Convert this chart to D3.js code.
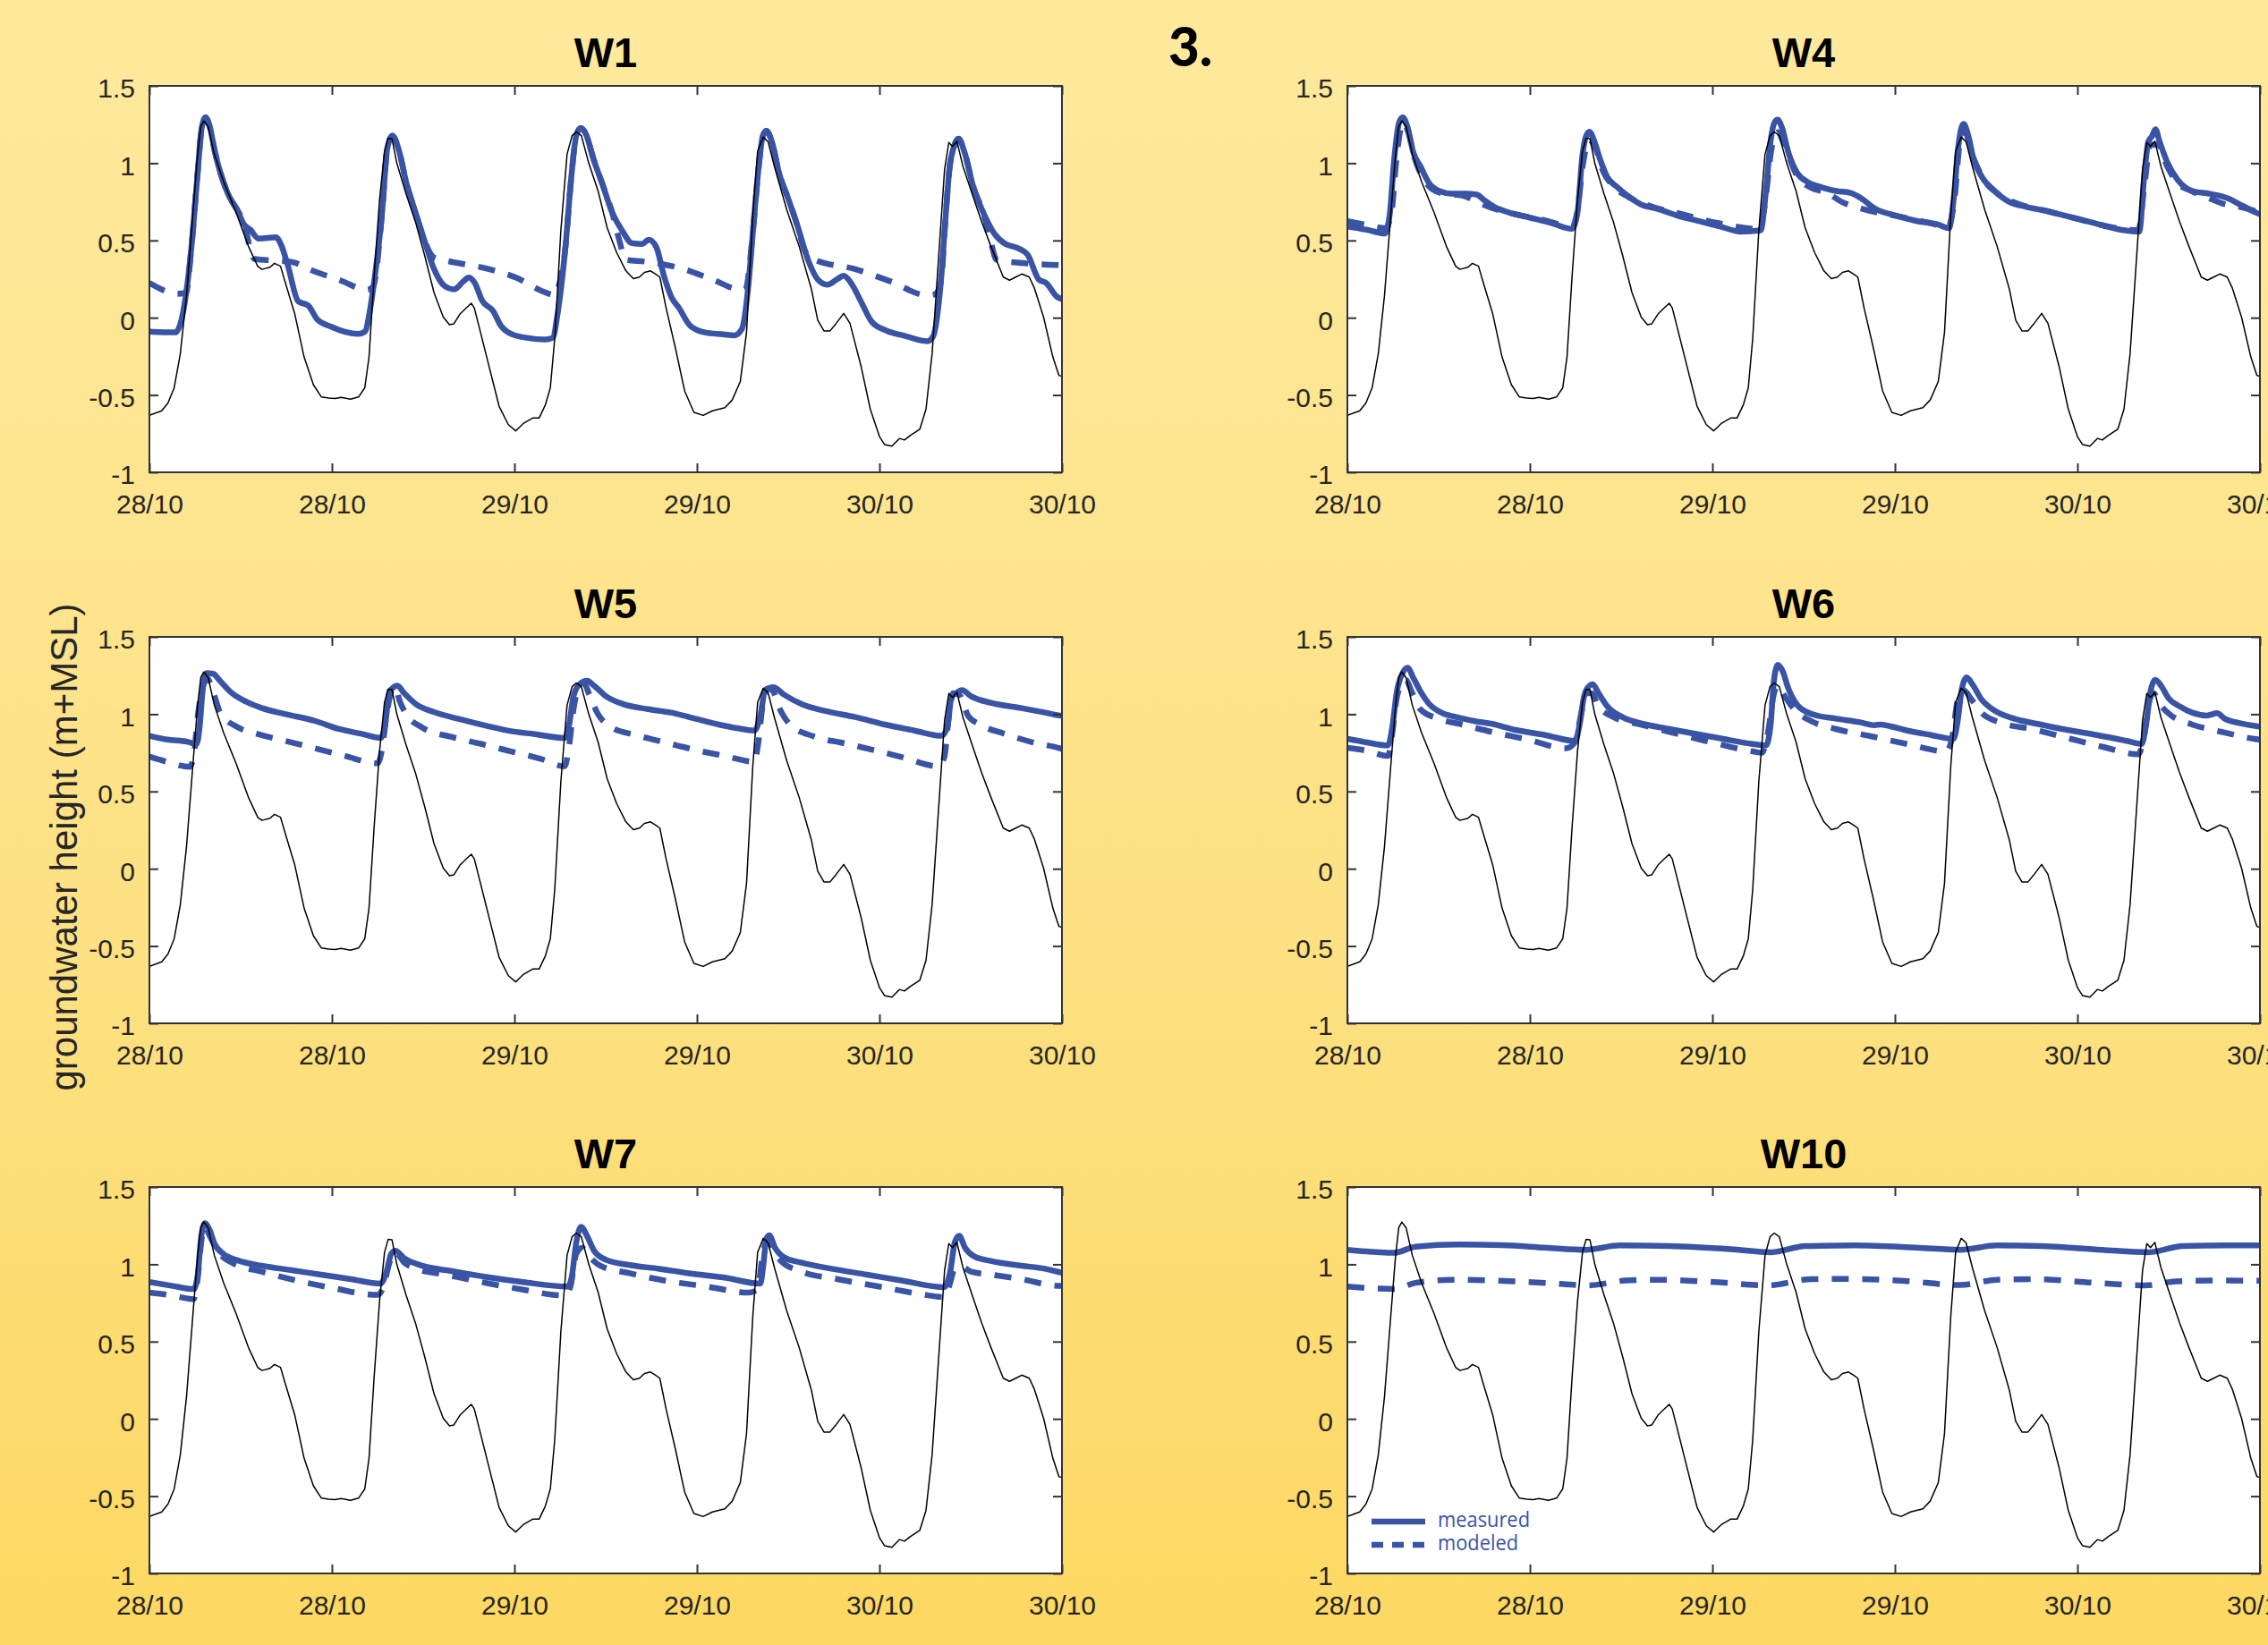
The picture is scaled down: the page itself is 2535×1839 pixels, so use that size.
<!DOCTYPE html>
<html>
<head>
<meta charset="utf-8">
<script src="https://cdn.jsdelivr.net/npm/d3@7"></script>
<style>
  html, body { margin: 0; padding: 0; overflow: hidden; background: #fde39a; }
  svg { display: block; }
</style>
</head>
<body>
<svg id="fig" width="2535" height="1839"></svg>
<script>
// ---- Data: hours after 28/10 00:00, value in m+MSL ----

// Sea level (thin black line), identical in every panel
const tide = [
  [0,-0.632],[0.81,-0.602],[1.22,-0.552],[1.63,-0.453],[2.03,-0.234],[2.44,0.144],[2.85,0.661],[3.17,1.058],
  [3.38,1.237],[3.58,1.273],[3.86,1.237],[4.27,1.058],[4.88,0.879],[5.7,0.681],[6.51,0.462],[7.12,0.333],
  [7.4,0.313],[7.93,0.327],[8.22,0.352],[8.62,0.333],[8.95,0.223],[9.56,0.024],[10.17,-0.254],[10.78,-0.433],
  [11.31,-0.513],[11.8,-0.52],[12.2,-0.523],[12.6,-0.515],[13.22,-0.527],[13.75,-0.513],[14.16,-0.453],
  [14.44,-0.254],[14.77,0.263],[15.13,0.76],[15.46,1.078],[15.7,1.162],[15.95,1.158],[16.27,0.999],[16.88,0.8],
  [17.49,0.621],[18.1,0.402],[18.71,0.163],[19.32,0.004],[19.73,-0.045],[20.02,-0.039],[20.42,0.024],
  [20.8,0.06],[21.16,0.094],[21.36,0.064],[21.77,-0.095],[22.38,-0.334],[22.99,-0.572],[23.6,-0.692],
  [24.08,-0.732],[24.61,-0.682],[25.22,-0.648],[25.63,-0.648],[26.04,-0.562],[26.36,-0.453],[26.65,-0.135],
  [27.05,0.561],[27.46,1.058],[27.79,1.178],[28.07,1.202],[28.4,1.178],[28.89,0.999],[29.5,0.82],[30.1,0.581],
  [30.72,0.422],[31.33,0.303],[31.82,0.253],[32.22,0.263],[32.55,0.293],[32.95,0.303],[33.28,0.283],
  [33.56,0.263],[33.97,0.064],[34.58,-0.194],[35.19,-0.473],[35.8,-0.612],[36.41,-0.632],[37.02,-0.602],
  [37.84,-0.582],[38.32,-0.532],[38.85,-0.413],[39.26,-0.095],[39.67,0.661],[39.99,1.078],[40.36,1.168],
  [40.68,1.138],[41.09,0.979],[41.9,0.7],[42.72,0.462],[43.53,0.183],[43.94,-0.016],[44.35,-0.085],
  [44.75,-0.085],[45.16,-0.036],[45.65,0.028],[46.06,-0.036],[46.79,-0.314],[47.4,-0.592],[48.01,-0.771],
  [48.34,-0.821],[48.82,-0.831],[49.31,-0.781],[49.64,-0.791],[50.04,-0.761],[50.65,-0.722],[51.06,-0.592],
  [51.46,-0.234],[51.87,0.362],[52.28,0.959],[52.56,1.134],[52.8,1.108],[53.09,1.142],[53.49,0.979],
  [54.1,0.8],[54.72,0.621],[55.33,0.462],[56.14,0.263],[56.55,0.243],[56.96,0.263],[57.36,0.283],
  [57.85,0.263],[58.18,0.193],[58.79,0.004],[59.4,-0.254],[59.8,-0.373],[60,-0.38]
];

const w1Measured = [
  [0,-0.09],[1.7,-0.095],[2.13,-0.004],[2.76,0.454],[3.15,0.911],[3.44,1.23],[3.69,1.296],[3.98,1.23],
  [4.31,1.072],[5.16,0.802],[5.84,0.686],[6.18,0.609],[6.63,0.57],[7.19,0.512],[8.32,0.52],[8.65,0.474],
  [9.1,0.339],[9.78,0.107],[10.45,0.078],[11.02,-0.009],[11.92,-0.057],[13.72,-0.105],[14.17,-0.09],
  [14.5,0.049],[14.8,0.25],[15.3,0.683],[15.64,1.095],[15.97,1.178],[16.37,1.095],[16.91,0.866],[17.49,0.683],
  [18.08,0.5],[18.71,0.316],[19.44,0.203],[20.03,0.184],[20.66,0.237],[21.0,0.26],[21.39,0.225],[21.88,0.11],
  [22.61,0.042],[23.1,-0.05],[23.83,-0.107],[24.81,-0.13],[26.03,-0.141],[26.51,-0.13],[26.86,0.042],
  [27.35,0.454],[27.74,0.911],[28.08,1.186],[28.37,1.227],[28.71,1.186],[29.2,1.026],[29.78,0.866],
  [30.42,0.683],[31.05,0.569],[31.73,0.482],[32.37,0.477],[32.85,0.505],[33.34,0.454],[33.83,0.271],
  [34.32,0.134],[34.81,0.065],[35.54,-0.05],[36.52,-0.095],[37.74,-0.107],[38.47,-0.114],[38.96,-0.072],
  [39.35,0.179],[39.69,0.569],[40.04,0.957],[40.33,1.174],[40.57,1.209],[40.92,1.141],[41.4,0.935],
  [41.99,0.774],[42.62,0.591],[43.35,0.362],[43.94,0.248],[44.57,0.214],[45.2,0.248],[45.64,0.271],
  [46.13,0.225],[46.76,0.11],[47.5,-0.027],[48.47,-0.084],[49.69,-0.118],[51.15,-0.152],[51.54,-0.118],
  [52.03,0.225],[52.37,0.683],[52.62,0.98],[52.86,1.095],[53.2,1.158],[53.59,1.071],[54.18,0.843],
  [54.81,0.683],[55.54,0.546],[56.28,0.477],[57.01,0.454],[57.74,0.408],[58.47,0.248],[58.95,0.225],
  [59.69,0.134],[60,0.12]
];
const w1Modeled = [
  [0,0.225],[1.0,0.175],[1.8,0.155],[2.4,0.16],[2.76,0.454],[3.15,0.911],[3.44,1.23],[3.69,1.296],
  [3.98,1.23],[4.31,1.072],[5.16,0.802],[5.84,0.686],[6.28,0.6],[6.6,0.454],[6.9,0.38],[8.2,0.37],
  [9.4,0.36],[10.6,0.31],[12.6,0.24],[14.3,0.18],[14.7,0.2],[15.3,0.683],[15.64,1.095],[15.97,1.178],
  [16.37,1.095],[16.91,0.866],[17.49,0.683],[18.08,0.5],[18.7,0.39],[19.35,0.373],[22.5,0.31],[24.1,0.26],
  [25.76,0.175],[26.66,0.146],[26.9,0.2],[27.35,0.454],[27.74,0.911],[28.08,1.186],[28.37,1.227],
  [28.71,1.186],[29.2,1.026],[29.78,0.866],[30.42,0.683],[30.9,0.5],[31.3,0.375],[32.6,0.363],
  [35.05,0.317],[37.0,0.248],[38.96,0.18],[39.2,0.19],[39.69,0.569],[40.04,0.957],[40.33,1.174],
  [40.57,1.209],[40.92,1.141],[41.4,0.935],[41.99,0.774],[42.62,0.591],[43.1,0.43],[43.8,0.373],
  [46.3,0.317],[48.7,0.236],[51.15,0.145],[51.6,0.15],[52.03,0.225],[52.37,0.683],[52.62,0.98],
  [52.86,1.095],[53.2,1.158],[53.59,1.071],[54.18,0.843],[54.81,0.683],[55.3,0.5],[55.7,0.375],
  [58.0,0.35],[60,0.34]
];

const w4Measured = [
  [0,0.59],[1.32,0.568],[2.48,0.545],[2.8,0.682],[3.08,1.026],[3.41,1.266],[3.64,1.296],[3.96,1.231],
  [4.33,1.071],[4.8,0.98],[5.4,0.866],[6.05,0.82],[6.88,0.802],[7.8,0.802],[8.5,0.797],[8.96,0.763],
  [9.66,0.717],[10.59,0.682],[11.98,0.648],[13.37,0.614],[14.76,0.575],[15.13,0.682],[15.45,1.048],
  [15.69,1.174],[15.92,1.204],[16.24,1.14],[16.61,1.026],[17.08,0.911],[17.77,0.843],[18.47,0.786],
  [19.39,0.729],[20.32,0.706],[21.71,0.66],[23.1,0.625],[24.49,0.591],[25.88,0.557],[27.17,0.565],
  [27.5,0.797],[27.82,1.14],[28.1,1.266],[28.29,1.282],[28.57,1.231],[28.99,1.071],[29.59,0.934],
  [30.29,0.877],[31.21,0.843],[32.14,0.82],[33.07,0.808],[33.76,0.774],[34.69,0.706],[36.08,0.66],
  [37.47,0.625],[38.86,0.602],[39.55,0.579],[39.87,0.774],[40.15,1.094],[40.38,1.231],[40.52,1.254],
  [40.8,1.186],[41.17,1.026],[41.72,0.911],[42.56,0.82],[43.49,0.751],[44.65,0.717],[45.81,0.694],
  [47.2,0.66],[49.05,0.614],[50.9,0.568],[52.06,0.557],[52.39,0.911],[52.66,1.14],[52.9,1.174],
  [53.13,1.22],[53.4,1.14],[53.92,1.003],[54.61,0.889],[55.54,0.82],[56.7,0.802],[57.86,0.774],
  [58.78,0.728],[59.71,0.682],[60,0.67]
];
const w4Modeled = [
  [0,0.625],[1.3,0.6],[2.5,0.58],[2.9,0.68],[3.2,1.0],[3.5,1.22],[3.7,1.26],[4.0,1.2],[4.4,1.04],
  [5.0,0.9],[5.6,0.83],[6.5,0.8],[7.6,0.79],[8.5,0.75],[9.5,0.71],[11.0,0.67],[13.0,0.63],[14.8,0.59],
  [15.1,0.68],[15.5,1.0],[15.9,1.15],[16.3,1.1],[16.8,0.95],[17.5,0.85],[18.5,0.78],[20.0,0.72],
  [22.0,0.67],[24.5,0.61],[27.0,0.575],[27.4,0.7],[27.9,1.1],[28.3,1.2],[28.8,1.1],[29.5,0.93],
  [30.5,0.84],[31.5,0.81],[32.5,0.75],[34.0,0.7],[36.0,0.66],[38.0,0.62],[39.5,0.59],[39.9,0.75],
  [40.3,1.15],[40.6,1.2],[41.1,1.05],[41.8,0.9],[42.8,0.8],[44.0,0.74],[46.0,0.69],[48.0,0.64],
  [50.0,0.59],[52.0,0.565],[52.4,0.85],[52.8,1.12],[53.3,1.12],[53.9,0.98],[54.6,0.87],[55.5,0.82],
  [56.5,0.78],[57.5,0.74],[59.0,0.71],[60,0.68]
];

const w5Measured = [
  [0,0.86],[1.15,0.836],[2.52,0.821],[3.1,0.807],[3.3,0.914],[3.49,1.145],[3.76,1.265],[4.19,1.261],
  [4.66,1.213],[5.44,1.135],[6.42,1.078],[7.4,1.039],[8.95,1.0],[10.9,0.956],[12.46,0.904],[14.02,0.871],
  [15.2,0.846],[15.5,0.933],[15.78,1.145],[15.98,1.168],[16.29,1.184],[16.76,1.135],[17.54,1.064],
  [18.71,1.014],[20.27,0.971],[22.22,0.923],[23.78,0.89],[25.34,0.871],[27.29,0.846],[27.6,0.933],
  [27.88,1.116],[28.27,1.193],[28.77,1.216],[29.24,1.184],[30.02,1.116],[31.19,1.064],[32.75,1.033],
  [34.3,1.01],[35.87,0.971],[37.43,0.933],[38.6,0.91],[39.78,0.894],[40.17,0.991],[40.48,1.155],
  [40.75,1.17],[41.03,1.174],[41.73,1.126],[42.9,1.064],[44.46,1.02],[46.41,0.981],[48.36,0.933],
  [50.3,0.894],[52.07,0.86],[52.46,0.914],[52.73,1.107],[53.04,1.135],[53.43,1.155],[54.02,1.116],
  [55.38,1.072],[57.33,1.039],[58.9,1.01],[59.87,0.991],[60,0.99]
];
const w5Modeled = [
  [0,0.725],[1.15,0.692],[2.63,0.659],[2.9,0.72],[3.18,0.99],[3.41,1.135],[3.8,1.232],[4.19,1.145],
  [4.66,1.01],[5.83,0.914],[7.0,0.875],[8.95,0.827],[10.9,0.779],[12.86,0.73],[15.0,0.682],[15.27,0.759],
  [15.59,0.991],[15.9,1.145],[16.17,1.174],[16.45,1.087],[16.95,0.991],[17.93,0.914],[19.88,0.852],
  [21.83,0.807],[23.78,0.759],[25.73,0.711],[27.29,0.663],[27.6,0.798],[27.88,1.029],[28.27,1.184],
  [28.54,1.203],[28.93,1.126],[29.44,1.01],[30.41,0.914],[31.97,0.865],[33.92,0.817],[35.87,0.769],
  [37.82,0.73],[39.78,0.692],[40.01,0.798],[40.36,1.087],[40.63,1.164],[40.95,1.155],[41.42,1.039],
  [42.12,0.933],[43.68,0.856],[45.63,0.813],[47.58,0.769],[49.53,0.721],[51.87,0.663],[52.26,0.72],
  [52.57,0.991],[52.85,1.135],[53.24,1.126],[53.82,0.991],[54.6,0.933],[56.16,0.875],[58.11,0.817],
  [59.87,0.779],[60,0.775]
];

const w6Measured = [
  [0,0.84],[1.3,0.817],[2.67,0.798],[2.95,0.914],[3.25,1.145],[3.65,1.27],[3.96,1.3],[4.35,1.232],
  [4.82,1.145],[5.4,1.064],[6.18,1.01],[7.16,0.981],[8.33,0.956],[9.52,0.937],[11.06,0.898],[13.0,0.865],
  [14.96,0.827],[15.27,0.933],[15.54,1.106],[15.82,1.174],[16.13,1.193],[16.52,1.135],[17.1,1.049],
  [18.08,0.981],[19.64,0.933],[21.2,0.904],[22.76,0.875],[24.71,0.84],[26.66,0.807],[27.52,0.798],
  [27.83,0.933],[28.03,1.203],[28.3,1.319],[28.61,1.28],[29.0,1.164],[29.59,1.058],[30.56,1.0],
  [32.12,0.971],[33.68,0.948],[34.66,0.929],[35.05,0.933],[35.64,0.923],[36.81,0.894],[38.37,0.865],
  [39.85,0.84],[40.12,0.952],[40.4,1.164],[40.71,1.238],[41.1,1.193],[41.68,1.097],[42.46,1.029],
  [43.83,0.971],[45.39,0.937],[47.34,0.898],[49.29,0.865],[51.24,0.827],[52.22,0.807],[52.49,0.914],
  [52.8,1.145],[53.11,1.222],[53.5,1.184],[53.97,1.106],[54.76,1.049],[55.54,1.01],[56.51,0.991],
  [57.18,1.006],[57.68,0.971],[58.66,0.942],[59.75,0.923],[60,0.92]
];
const w6Modeled = [
  [0,0.782],[1.3,0.763],[2.67,0.73],[2.95,0.875],[3.25,1.106],[3.57,1.193],[3.84,1.222],[4.23,1.145],
  [4.82,1.029],[5.99,0.971],[7.55,0.933],[9.5,0.885],[11.84,0.836],[14.37,0.779],[14.96,0.817],
  [15.35,0.991],[15.74,1.135],[16.05,1.135],[16.52,1.049],[17.5,0.981],[19.25,0.933],[21.2,0.885],
  [23.54,0.827],[26.66,0.759],[27.25,0.75],[27.64,0.875],[28.03,1.126],[28.3,1.184],[28.69,1.126],
  [29.4,1.029],[30.56,0.952],[32.12,0.904],[34.47,0.856],[36.81,0.807],[39.35,0.759],[39.74,0.836],
  [40.12,1.087],[40.51,1.155],[41.02,1.097],[41.68,1.01],[43.05,0.942],[45.0,0.904],[47.34,0.846],
  [49.68,0.788],[52.02,0.74],[52.33,0.836],[52.73,1.087],[53.0,1.135],[53.39,1.068],[54.17,0.991],
  [55.54,0.933],[57.49,0.885],[59.63,0.84],[60,0.835]
];

const w7Measured = [
  [0,0.885],[1.54,0.86],[2.91,0.84],[3.18,0.933],[3.41,1.184],[3.65,1.265],[3.96,1.222],[4.27,1.135],
  [4.86,1.068],[5.83,1.025],[7.39,0.991],[9.34,0.962],[11.29,0.933],[13.24,0.904],[15.19,0.875],
  [15.59,0.952],[15.9,1.068],[16.17,1.087],[16.76,1.039],[17.93,0.991],[19.88,0.956],[22.22,0.917],
  [24.56,0.885],[27.49,0.856],[27.76,0.914],[28.07,1.145],[28.38,1.242],[28.77,1.184],[29.24,1.087],
  [30.02,1.029],[31.58,0.995],[33.53,0.971],[35.48,0.942],[37.82,0.914],[40.17,0.875],[40.36,0.991],
  [40.56,1.164],[40.75,1.188],[41.14,1.106],[41.73,1.045],[42.9,1.01],[44.85,0.971],[47.19,0.933],
  [49.53,0.894],[52.26,0.852],[52.65,0.952],[52.96,1.145],[53.24,1.184],[53.63,1.106],[54.21,1.052],
  [55.38,1.02],[57.33,0.991],[58.89,0.971],[59.87,0.948],[60,0.945]
];
const w7Modeled = [
  [0,0.817],[1.54,0.798],[2.91,0.775],[3.18,0.914],[3.41,1.145],[3.65,1.242],[3.96,1.184],[4.47,1.087],
  [5.44,1.01],[7.39,0.952],[9.73,0.894],[12.07,0.846],[15.0,0.802],[15.39,0.856],[15.78,1.01],
  [16.17,1.078],[16.76,1.01],[17.54,0.971],[19.49,0.933],[21.83,0.885],[24.56,0.836],[27.29,0.798],
  [27.68,0.856],[28.07,1.068],[28.46,1.106],[28.85,1.058],[29.63,0.991],[31.58,0.942],[33.92,0.894],
  [36.65,0.856],[39.38,0.817],[39.97,0.836],[40.36,1.087],[40.63,1.155],[40.95,1.106],[41.54,1.02],
  [42.9,0.952],[45.24,0.904],[47.97,0.856],[50.7,0.807],[52.26,0.788],[52.57,0.856],[52.96,0.971],
  [53.43,0.981],[54.02,0.952],[55.38,0.933],[57.33,0.904],[59.87,0.86],[60,0.86]
];

const w10Measured = [
  [0,1.094],[3.05,1.074],[4.48,1.114],[7.32,1.128],[10.17,1.124],[13.0,1.108],[15.67,1.094],[17.9,1.122],
  [21.16,1.118],[25.2,1.098],[27.87,1.078],[30.1,1.118],[33.36,1.122],[37.4,1.108],[40.3,1.094],
  [42.7,1.122],[45.57,1.118],[49.6,1.094],[52.7,1.078],[54.92,1.118],[57.77,1.122],[60,1.122]
];
const w10Modeled = [
  [0,0.856],[3.05,0.84],[4.48,0.88],[6.9,0.9],[9.76,0.895],[13.0,0.88],[15.87,0.864],[18.3,0.895],
  [20.75,0.9],[24.4,0.883],[27.67,0.864],[30.5,0.904],[33.36,0.905],[36.6,0.893],[40.3,0.866],
  [42.7,0.9],[45.16,0.904],[49.23,0.88],[52.48,0.864],[54.5,0.89],[56.96,0.895],[60,0.893]
];

const panelTitles = ["W1", "W4", "W5", "W6", "W7", "W10"];
const measuredSeries = [w1Measured, w4Measured, w5Measured, w6Measured, w7Measured, w10Measured];
const modeledSeries = [w1Modeled, w4Modeled, w5Modeled, w6Modeled, w7Modeled, w10Modeled];

const xTickHours = [0, 12, 24, 36, 48, 60];
const yTicks = [-1, -0.5, 0, 0.5, 1, 1.5];
const legendLabels = ["measured", "modeled"];
const yAxisLabel = "groundwater height (m+MSL)";
const figureNumber = "3.";

// ---- Layout ----
const W = 1020, H = 432;
const colX = [167, 1506];
const rowY = [96, 712, 1327];
const blue = "#3953a5";
const axisColor = "#333333";
const labelColor = "#262626";
const sansFont = "'Liberation Sans', Arial, Helvetica, sans-serif";

const svg = d3.select("#fig");
const defs = svg.append("defs");

const grad = defs.append("linearGradient")
  .attr("id", "bgGrad").attr("x1", 0).attr("y1", 0).attr("x2", 0).attr("y2", 1);
grad.append("stop").attr("offset", "0%").attr("stop-color", "#fee99d");
grad.append("stop").attr("offset", "55%").attr("stop-color", "#fde184");
grad.append("stop").attr("offset", "100%").attr("stop-color", "#fdd862");

svg.append("rect").attr("width", 2535).attr("height", 1839).attr("fill", "url(#bgGrad)");

defs.append("clipPath").attr("id", "plotClip")
  .append("rect").attr("x", 0).attr("y", 0).attr("width", W).attr("height", H);

// Time scale (UTC, so no daylight-saving shift at the end of October)
const t0 = Date.UTC(2015, 9, 28, 0, 0);
const toDate = h => new Date(t0 + h * 3600000);
const x = d3.scaleUtc().domain([toDate(0), toDate(60)]).range([0, W]);
const y = d3.scaleLinear().domain([-1, 1.5]).range([H, 0]);
const fmt = d3.utcFormat("%d/%m");
const xTickDates = xTickHours.map(toDate);

const smoothLine = d3.line()
  .x(d => x(toDate(d[0])))
  .y(d => y(d[1]))
  .curve(d3.curveMonotoneX);
const rawLine = d3.line()
  .x(d => x(toDate(d[0])))
  .y(d => y(d[1]));

function styleAxis(sel) {
  sel.select(".domain").remove();
  sel.selectAll(".tick line").attr("stroke", axisColor).attr("stroke-width", 2);
  sel.selectAll("text")
    .attr("fill", labelColor)
    .style("font-family", sansFont)
    .style("font-size", "30px");
}

panelTitles.forEach((title, i) => {
  const col = i % 2, row = Math.floor(i / 2);
  const g = svg.append("g").attr("transform", `translate(${colX[col]},${rowY[row]})`);

  g.append("rect").attr("width", W).attr("height", H).attr("fill", "#ffffff");

  const plot = g.append("g").attr("clip-path", "url(#plotClip)");

  plot.append("path")
    .datum(measuredSeries[i])
    .attr("d", smoothLine)
    .attr("fill", "none")
    .attr("stroke", blue)
    .attr("stroke-width", 6.5)
    .attr("stroke-linejoin", "round");

  plot.append("path")
    .datum(modeledSeries[i])
    .attr("d", smoothLine)
    .attr("fill", "none")
    .attr("stroke", blue)
    .attr("stroke-width", 6.5)
    .attr("stroke-dasharray", "19,15");

  plot.append("path")
    .datum(tide)
    .attr("d", rawLine)
    .attr("fill", "none")
    .attr("stroke", "#000000")
    .attr("stroke-width", 1.5)
    .attr("stroke-linejoin", "round");

  // Inward ticks on all four sides, labels on bottom and left
  const gx = g.append("g").attr("transform", `translate(0,${H})`)
    .call(d3.axisBottom(x).tickValues(xTickDates).tickFormat(fmt).tickSizeInner(-10).tickSizeOuter(0));
  styleAxis(gx);
  gx.selectAll("text").attr("y", 46).attr("dy", null);

  const gxTop = g.append("g")
    .call(d3.axisTop(x).tickValues(xTickDates).tickFormat("").tickSizeInner(-10).tickSizeOuter(0));
  styleAxis(gxTop);

  const gy = g.append("g")
    .call(d3.axisLeft(y).tickValues(yTicks).tickFormat(d => String(d)).tickSizeInner(-10).tickSizeOuter(0));
  styleAxis(gy);
  gy.selectAll("text").attr("x", -16).attr("dy", "0.43em");

  const gyRight = g.append("g").attr("transform", `translate(${W},0)`)
    .call(d3.axisRight(y).tickValues(yTicks).tickFormat("").tickSizeInner(-10).tickSizeOuter(0));
  styleAxis(gyRight);

  g.append("rect").attr("width", W).attr("height", H)
    .attr("fill", "none").attr("stroke", axisColor).attr("stroke-width", 2);

  g.append("text")
    .attr("x", W / 2).attr("y", -21)
    .attr("text-anchor", "middle")
    .style("font-family", sansFont)
    .style("font-weight", "bold")
    .style("font-size", "47px")
    .attr("fill", "#000")
    .text(title);

  // Legend in the last panel
  if (i === panelTitles.length - 1) {
    const lg = g.append("g").attr("transform", "translate(27,374)");
    lg.append("line").attr("x1", 0).attr("x2", 60).attr("y1", 0).attr("y2", 0)
      .attr("stroke", blue).attr("stroke-width", 6.5);
    lg.append("line").attr("x1", 0).attr("x2", 60).attr("y1", 26).attr("y2", 26)
      .attr("stroke", blue).attr("stroke-width", 6.5).attr("stroke-dasharray", "13,10");
    const lens = [103, 90];
    legendLabels.forEach((lab, k) => {
      lg.append("text")
        .attr("x", 74).attr("y", 6 + k * 26)
        .attr("textLength", lens[k]).attr("lengthAdjust", "spacingAndGlyphs")
        .style("font-family", "'Open Sans', 'Noto Sans', sans-serif")
        .style("font-size", "24px")
        .attr("fill", blue)
        .text(lab);
    });
  }
});

// Shared y-axis label
svg.append("text")
  .attr("transform", "translate(86,947) rotate(-90)")
  .attr("text-anchor", "middle")
  .style("font-family", sansFont)
  .style("font-size", "42px")
  .attr("fill", labelColor)
  .text(yAxisLabel);

// Figure number
svg.append("text")
  .attr("x", 1306).attr("y", 74)
  .style("font-family", "Lato, 'Open Sans', sans-serif")
  .style("font-weight", "900")
  .style("font-size", "60px")
  .attr("fill", "#000")
  .text(figureNumber);
</script>
</body>
</html>
